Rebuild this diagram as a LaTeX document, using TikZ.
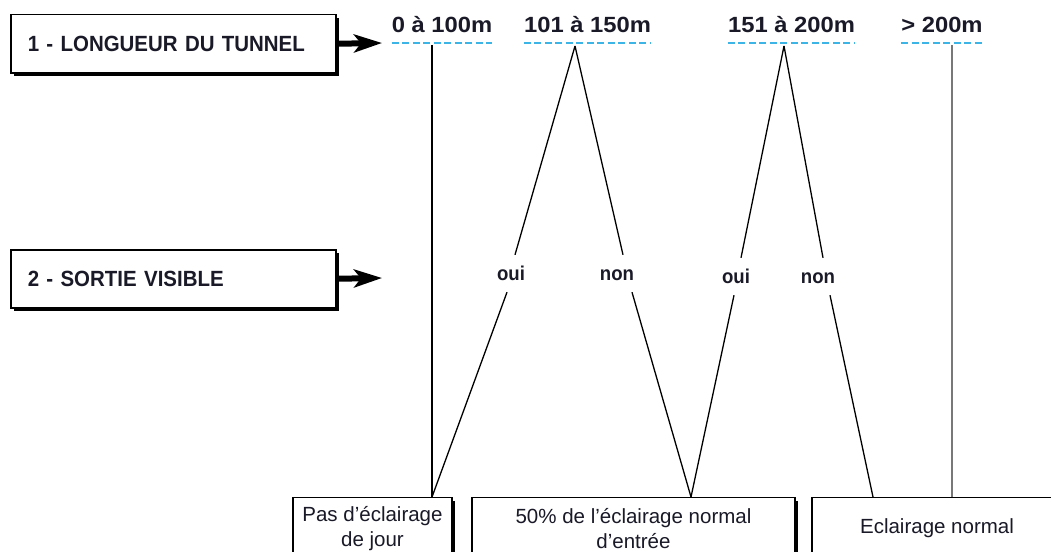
\documentclass[tikz,border=0pt]{standalone}
\usepackage{fontspec}
\setmainfont{Liberation Sans}
\newfontfamily\boxfont[FakeStretch=0.93]{Liberation Sans}
\newfontfamily\topfont[FakeStretch=1.08]{Liberation Sans}
\usetikzlibrary{arrows.meta,shadows,calc}
\definecolor{dashblue}{RGB}{60,180,230}
\definecolor{ink}{RGB}{25,25,40}
\definecolor{grayline}{RGB}{120,120,120}
\begin{document}
\begin{tikzpicture}[x=1pt,y=-1pt,
  catbox/.style={draw=black,line width=1.5pt,fill=white,
    drop shadow={shadow xshift=3pt,shadow yshift=-3pt,fill=black,opacity=1},
    minimum width=325pt,minimum height=58pt,text width=291pt,align=left,
    inner xsep=17pt,anchor=north west,
    font=\boxfont\bfseries\fontsize{22}{26}\selectfont,text=ink},
  outbox/.style={draw=black,line width=1.3pt,fill=white,
    drop shadow={shadow xshift=3pt,shadow yshift=-3pt,fill=black,opacity=1},
    minimum height=62pt,anchor=north,align=center,
    font=\fontsize{20.5}{25}\selectfont,text=ink},
  toplab/.style={anchor=base,inner sep=0pt,text=ink,
    font=\topfont\bfseries\fontsize{22}{26}\selectfont},
  ynlab/.style={anchor=base,inner xsep=0pt,inner ysep=12pt,text height=13pt,text depth=0pt,
    text=ink,font=\boxfont\bfseries\fontsize{20}{24}\selectfont},
  dashline/.style={draw=dashblue,line width=2pt,dash pattern=on 7pt off 3.5pt},
  bigarrow/.style={line width=6pt,-{Stealth[length=28pt,width=18pt,inset=7pt]}},
  conn/.style={draw=black,line width=1.3pt},
  grayconn/.style={draw=grayline,line width=1.6pt}
]
\useasboundingbox (0,0) rectangle (1051,551);

% category boxes
\node[catbox] (box1) at (10,14) {1 - LONGUEUR DU TUNNEL};
\node[catbox] (box2) at (10,249) {2 - SORTIE VISIBLE};
\coordinate (ar1) at (382,43);
\coordinate (ar2) at (382,278);
\draw[bigarrow] (box1.east) -- (ar1);
\draw[bigarrow] (box2.east) -- (ar2);

% length labels
\node[toplab] (l0) at (442,33) {0 à 100m};
\node[toplab] (l1) at (587.5,33) {101 à 150m};
\node[toplab] (l2) at (791.5,33) {151 à 200m};
\node[toplab] (l3) at (942,33) {> 200m};
\foreach \n in {l0,l1,l2,l3}{
  \draw[dashline] ([yshift=-10pt]\n.base west) -- ([yshift=-10pt]\n.base east);
}

% result boxes
\node[outbox,minimum width=159pt] (bA) at (372.5,497) {Pas d’éclairage\\de jour};
\node[outbox,minimum width=323pt] (bB) at (633.5,497) {50\% de l’éclairage normal\\d’entrée};
\node[outbox,minimum width=250pt] (bC) at (937,497) {Eclairage normal};

% yes / no labels
\node[ynlab] (oui1) at (511,280) {oui};
\node[ynlab] (non1) at (617,280) {non};
\node[ynlab] (oui2) at (736,283) {oui};
\node[ynlab] (non2) at (818,283) {non};

% coordinates
\coordinate (v0) at (432,45);
\coordinate (v3) at (952,45);
\coordinate (ap1) at (575,46);
\coordinate (ap2) at (784,46);
\coordinate (ea) at (v0 |- bA.north);
\coordinate (eb) at (691,497);
\coordinate (ec) at (873,497);

% connectors
\draw[conn] (v0) -- (ea);
\draw[conn] (ap1) -- ([xshift=4pt]oui1.north);
\draw[conn] ([xshift=-4pt]oui1.south) -- (ea);
\draw[conn] (ap1) -- ([xshift=6pt]non1.north);
\draw[conn] ([xshift=15pt]non1.south) -- (eb);
\draw[conn] (ap2) -- ([xshift=5pt]oui2.north);
\draw[conn] ([xshift=-2pt]oui2.south) -- (eb);
\draw[conn] (ap2) -- ([xshift=5pt]non2.north);
\draw[conn] ([xshift=12pt]non2.south) -- (ec);
\draw[grayconn] (v3) -- (v3 |- bC.north);
\end{tikzpicture}
\end{document}
